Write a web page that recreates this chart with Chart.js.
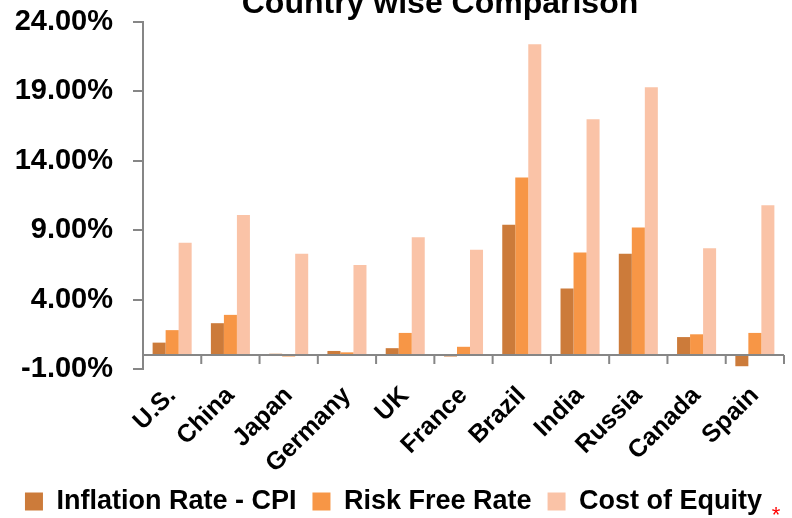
<!DOCTYPE html>
<html>
<head>
<meta charset="utf-8">
<script src="https://cdn.jsdelivr.net/npm/chart.js@4.4.0/dist/chart.umd.min.js"></script>
<style>
  html, body { margin: 0; padding: 0; background: #fff; }
  #wrap { width: 792px; height: 518px; position: relative; }
</style>
</head>
<body>
<div id="wrap"><canvas id="grafico"></canvas></div>
<script>
// dados (%)
const countries = ['U.S.', 'China', 'Japan', 'Germany', 'UK', 'France', 'Brazil', 'India', 'Russia', 'Canada', 'Spain']
const inflationCpi = [0.9, 2.3, 0.1, 0.3, 0.5, -0.1, 9.4, 4.8, 7.3, 1.3, -0.8]
const riskFree = [1.8, 2.9, -0.1, 0.2, 1.6, 0.6, 12.8, 7.4, 9.2, 1.5, 1.6]
const costEquity = [8.1, 10.1, 7.3, 6.5, 8.5, 7.6, 22.4, 17.0, 19.3, 7.7, 10.8]
const yTicks = [-1, 4, 9, 14, 19, 24]

const fonte = 'Liberation Sans, Arial, sans-serif'
const cinza = '#868686'

// linha do zero + marcas entre categorias, titulo cortado e asterisco
const extras = {
  id: 'extras',
  afterDatasetsDraw(chart) {
    const { ctx, chartArea, scales: { y } } = chart
    const y0 = y.getPixelForValue(0)
    const step = (chartArea.right - chartArea.left) / countries.length
    ctx.save()
    ctx.strokeStyle = cinza
    ctx.lineWidth = 2
    ctx.beginPath()
    ctx.moveTo(chartArea.left, y0)
    ctx.lineTo(chartArea.right, y0)
    for (let i = 1; i <= countries.length; i++) {
      const px = chartArea.left + i * step
      ctx.moveTo(px, y0)
      ctx.lineTo(px, y0 + 9)
    }
    ctx.stroke()

    ctx.fillStyle = '#000'
    ctx.font = 'bold 32px ' + fonte
    ctx.textAlign = 'center'
    ctx.textBaseline = 'alphabetic'
    ctx.fillText('Country wise Comparison', 440, 13)

    ctx.fillStyle = '#ff0000'
    ctx.font = '22px ' + fonte
    ctx.fillText('*', 776, 522)
    ctx.restore()
  }
}

const ctx = document.getElementById('grafico')

new Chart(ctx, {
  type: 'bar',
  data: {
    labels: countries,
    datasets: [{
      label: 'Inflation Rate - CPI',
      data: inflationCpi,
      backgroundColor: '#CC7B3A'
    }, {
      label: 'Risk Free Rate',
      data: riskFree,
      backgroundColor: '#F79646'
    }, {
      label: 'Cost of Equity',
      data: costEquity,
      backgroundColor: '#FAC3A7'
    }]
  },
  plugins: [extras],
  options: {
    responsive: true,
    maintainAspectRatio: false,
    animation: false,
    datasets: {
      bar: { categoryPercentage: 0.67, barPercentage: 1.0 }
    },
    layout: { padding: { left: 3, right: 8, top: 22, bottom: -7 } },
    plugins: {
      tooltip: { enabled: false },
      title: { display: false },
      legend: {
        position: 'bottom',
        labels: {
          boxWidth: 18,
          boxHeight: 18,
          padding: 16,
          color: '#000',
          font: { family: fonte, size: 27, weight: 'bold' }
        }
      }
    },
    scales: {
      x: {
        grid: { display: false },
        border: { display: false },
        afterFit: s => { s.height = 103 },
        ticks: {
          minRotation: 45,
          maxRotation: 45,
          padding: 4,
          color: '#000',
          font: { family: fonte, size: 25, weight: 'bold' }
        }
      },
      y: {
        min: yTicks[0],
        max: yTicks[yTicks.length - 1],
        afterBuildTicks: s => { s.ticks = yTicks.map(v => ({ value: v })) },
        afterFit: s => {
          s.width = 140
          s.paddingTop = 0
          s.paddingBottom = 0
        },
        ticks: {
          padding: 20,
          color: '#000',
          font: { family: fonte, size: 29, weight: 'bold' },
          callback: v => v.toFixed(2) + '%'
        },
        grid: { drawOnChartArea: false, drawTicks: true, tickLength: 10, color: cinza, lineWidth: 2 },
        border: { display: true, color: cinza, width: 2 }
      }
    }
  }
});
</script>
</body>
</html>
